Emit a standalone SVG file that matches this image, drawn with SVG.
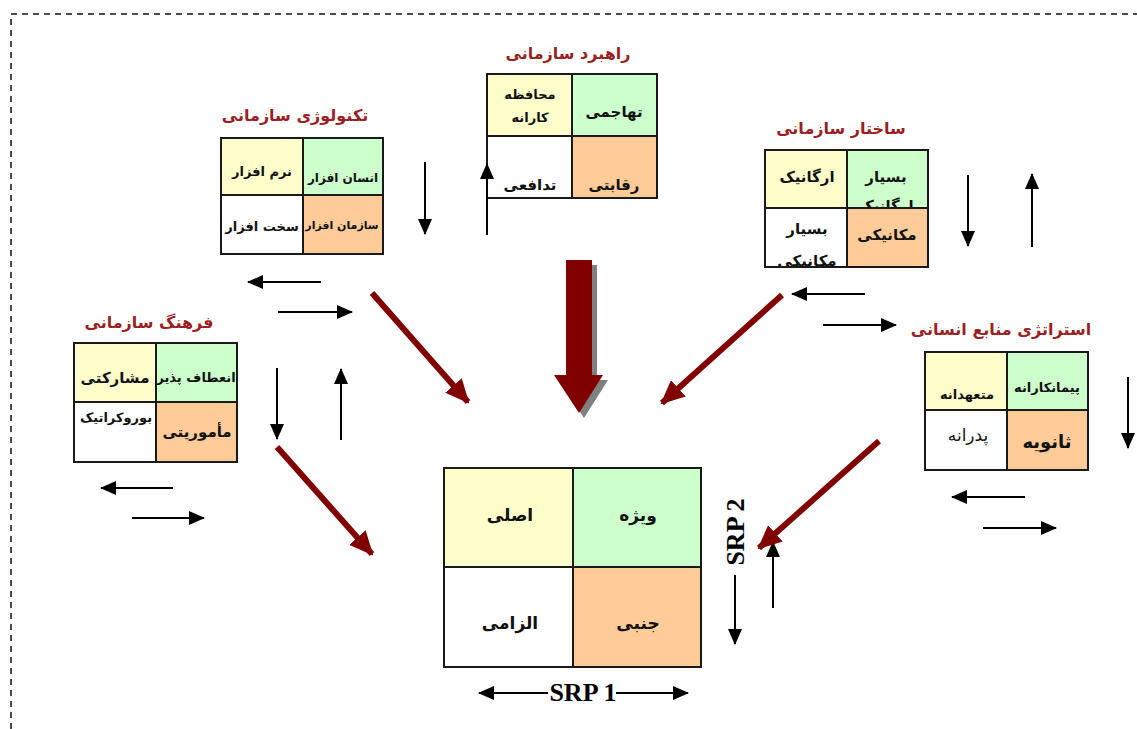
<svg xmlns="http://www.w3.org/2000/svg" width="1137" height="729" viewBox="0 0 1137 729">
<style>
.title{font-family:"DejaVu Sans","Noto Sans",sans-serif;font-weight:bold;font-size:16px;fill:#9A1F24;text-anchor:middle}
.ct{font-family:"DejaVu Sans","Noto Sans",sans-serif;font-weight:bold;font-size:13px;fill:#111;text-anchor:middle}
.big{font-size:15px}
.cc{font-family:"DejaVu Sans","Noto Sans",sans-serif;font-weight:bold;font-size:17px;fill:#111;text-anchor:middle}
.srp{font-family:"Liberation Serif","Times New Roman",serif;font-weight:bold;font-size:26px;fill:#000;text-anchor:middle}
.y{fill:#FFFFCC}.g{fill:#CCFFCC}.o{fill:#FFCC99}.w{fill:#FFFFFF}
.grid{fill:none;stroke:#1a1a1a;stroke-width:2}
.bl{stroke:#000;stroke-width:2;fill:none;marker-end:url(#ah)}
.rd{stroke:#800000;stroke-width:6;fill:none;marker-end:url(#rh)}
.frame{stroke:#111;stroke-width:1.5;fill:none;stroke-dasharray:6,5}
</style>
<defs>
<marker id="ah" markerUnits="userSpaceOnUse" markerWidth="16" markerHeight="14" viewBox="0 0 16 14" refX="15" refY="7" orient="auto">
<path d="M0,0 L16,7 L0,14 z" fill="#000"/>
</marker>
<marker id="rh" markerUnits="userSpaceOnUse" markerWidth="24" markerHeight="22" viewBox="0 0 24 22" refX="22" refY="11" orient="auto">
<path d="M0,0 L24,11 L0,22 z" fill="#800000"/>
</marker>
<clipPath id="cS1"><rect x="847" y="150" width="81" height="58"/></clipPath>
<clipPath id="cS2"><rect x="765" y="208" width="82" height="59"/></clipPath>
</defs>
<rect width="1137" height="729" fill="#fff"/>
<path class="frame" d="M11,729 L11,14 L1137,14"/>

<g id="strategy">
<text class="title" x="568" y="59">راهبرد سازمانی</text>
<rect class="y" x="487" y="74" width="85" height="62"/>
<rect class="g" x="572" y="74" width="85" height="62"/>
<rect class="w" x="487" y="136" width="85" height="62"/>
<rect class="o" x="572" y="136" width="85" height="62"/>
<rect class="grid" x="487" y="74" width="170" height="124"/>
<path class="grid" d="M572,74 V198 M487,136 H657"/>
<text class="ct" x="530" y="99">محافظه</text>
<text class="ct" x="530" y="122">کارانه</text>
<text class="ct big" x="614" y="117">تهاجمی</text>
<text class="ct big" x="530" y="190">تدافعی</text>
<text class="ct big" x="614" y="190">رقابتی</text>
</g>

<g id="technology">
<text class="title" x="295" y="121">تکنولوژی سازمانی</text>
<rect class="y" x="221" y="138" width="82" height="57"/>
<rect class="g" x="303" y="138" width="80" height="57"/>
<rect class="w" x="221" y="195" width="82" height="59"/>
<rect class="o" x="303" y="195" width="80" height="59"/>
<rect class="grid" x="221" y="138" width="162" height="116"/>
<path class="grid" d="M303,138 V254 M221,195 H383"/>
<text class="ct" x="262" y="176">نرم افزار</text>
<text class="ct" x="343" y="182" style="font-size:12px">انسان افزار</text>
<text class="ct" x="262" y="231">سخت افزار</text>
<text class="ct" x="342" y="229" style="font-size:11px">سازمان افزار</text>
</g>

<g id="structure">
<text class="title" x="841" y="134">ساختار سازمانی</text>
<rect class="y" x="765" y="150" width="82" height="58"/>
<rect class="g" x="847" y="150" width="81" height="58"/>
<rect class="w" x="765" y="208" width="82" height="59"/>
<rect class="o" x="847" y="208" width="81" height="59"/>
<text class="ct big" x="807" y="182">ارگانیک</text>
<g clip-path="url(#cS1)">
<text class="ct big" x="886" y="182">بسیار</text>
<text class="ct big" x="886" y="211">ارگانیک</text>
</g>
<g clip-path="url(#cS2)">
<text class="ct big" x="807" y="234">بسیار</text>
<text class="ct big" x="807" y="266">مکانیکی</text>
</g>
<text class="ct big" x="887" y="240">مکانیکی</text>
<rect class="grid" x="765" y="150" width="163" height="117"/>
<path class="grid" d="M847,150 V267 M765,208 H928"/>
</g>

<g id="culture">
<text class="title" x="149" y="328">فرهنگ سازمانی</text>
<rect class="y" x="74" y="343" width="82" height="59"/>
<rect class="g" x="156" y="343" width="81" height="59"/>
<rect class="w" x="74" y="402" width="82" height="60"/>
<rect class="o" x="156" y="402" width="81" height="60"/>
<rect class="grid" x="74" y="343" width="163" height="119"/>
<path class="grid" d="M156,343 V462 M74,402 H237"/>
<text class="ct big" x="115" y="383">مشارکتی</text>
<text class="ct" x="196" y="382">انعطاف پذیر</text>
<text class="ct" x="116" y="422">بوروکراتیک</text>
<text class="ct big" x="197" y="437">مأموریتی</text>
</g>

<g id="hr-strategy">
<text class="title" x="1001" y="335">استراتژی منابع انسانی</text>
<rect class="y" x="925" y="352" width="82" height="58"/>
<rect class="g" x="1007" y="352" width="81" height="58"/>
<rect class="w" x="925" y="410" width="82" height="60"/>
<rect class="o" x="1007" y="410" width="81" height="60"/>
<rect class="grid" x="925" y="352" width="163" height="118"/>
<path class="grid" d="M1007,352 V470 M925,410 H1088"/>
<text class="ct" x="967" y="399">متعهدانه</text>
<text class="ct" x="1047" y="392">پیمانکارانه</text>
<text x="968" y="441" style="font-family:'DejaVu Sans',sans-serif;font-size:17px;fill:#111;text-anchor:middle">پدرانه</text>
<text class="ct" x="1047" y="448" style="font-size:18px">ثانویه</text>
</g>

<g id="center">
<rect class="y" x="444" y="468" width="129" height="99"/>
<rect class="g" x="573" y="468" width="128" height="99"/>
<rect class="w" x="444" y="567" width="129" height="100"/>
<rect class="o" x="573" y="567" width="128" height="100"/>
<rect class="grid" x="444" y="468" width="257" height="199"/>
<path class="grid" d="M573,468 V667 M444,567 H701"/>
<text class="cc" x="510" y="521">اصلی</text>
<text class="cc" x="638" y="521">ویژه</text>
<text class="cc" x="510" y="629">الزامی</text>
<text class="cc" x="638" y="629">جنبی</text>
<text class="srp" x="583" y="701">SRP 1</text>
<text class="srp" transform="rotate(-90 744 532)" x="744" y="532">SRP 2</text>
</g>

<g id="big-arrow">
<path d="M571,265 H597 V380 H608 L584,418 L559,380 H571 Z" fill="#808080"/>
<path d="M566,260 H592 V375 H603 L579,413 L554,375 H566 Z" fill="#800000"/>
</g>

<g id="connectors">
<line class="bl" x1="487" y1="235" x2="487" y2="164"/>
<line class="bl" x1="425" y1="162" x2="425" y2="234"/>
<line class="bl" x1="968" y1="175" x2="968" y2="246"/>
<line class="bl" x1="1032" y1="247" x2="1032" y2="174"/>
<line class="bl" x1="321" y1="282" x2="248" y2="282"/>
<line class="bl" x1="278" y1="312" x2="352" y2="312"/>
<line class="bl" x1="277" y1="368" x2="277" y2="439"/>
<line class="bl" x1="341" y1="440" x2="341" y2="369"/>
<line class="bl" x1="173" y1="488" x2="101" y2="488"/>
<line class="bl" x1="132" y1="518" x2="204" y2="518"/>
<line class="bl" x1="865" y1="294" x2="792" y2="294"/>
<line class="bl" x1="823" y1="325" x2="896" y2="325"/>
<line class="bl" x1="1128" y1="377" x2="1128" y2="448"/>
<line class="bl" x1="1025" y1="497" x2="952" y2="497"/>
<line class="bl" x1="983" y1="528" x2="1056" y2="528"/>
<line class="bl" x1="773" y1="608" x2="773" y2="542"/>
<line class="bl" x1="735" y1="575" x2="735" y2="644"/>
<line class="bl" x1="548" y1="693" x2="479" y2="693"/>
<line class="bl" x1="616" y1="693" x2="688" y2="693"/>
<line class="rd" x1="372" y1="293" x2="468" y2="402"/>
<line class="rd" x1="782" y1="295" x2="662" y2="403"/>
<line class="rd" x1="277" y1="447" x2="372" y2="554"/>
<line class="rd" x1="879" y1="441" x2="759" y2="548"/>
</g>
</svg>
